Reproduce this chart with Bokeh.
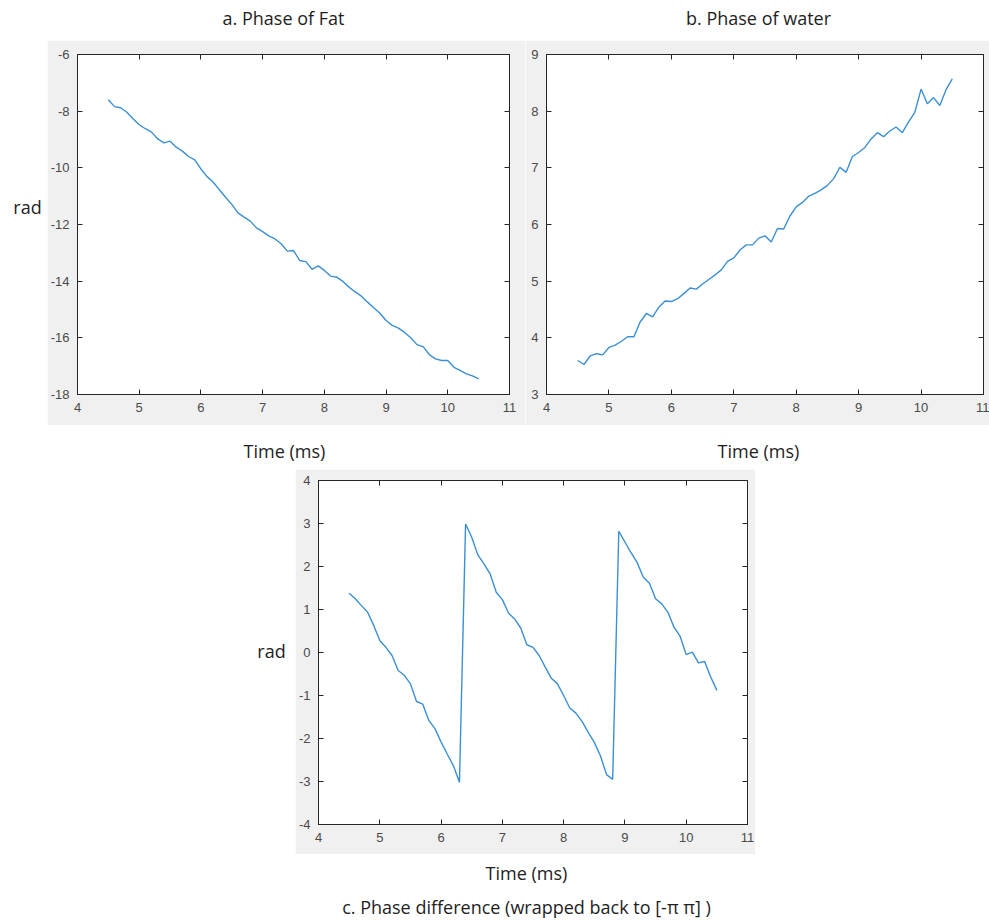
from bokeh.plotting import figure
from bokeh.models import Range1d, SingleIntervalTicker, LinearAxis, PrintfTickFormatter
from bokeh.layouts import column, row
from bokeh.embed import file_html
from bokeh.resources import INLINE
from bokeh.core.properties import value

# ---------------- data ----------------
time_ms = [4.5, 4.6, 4.7, 4.8, 4.9, 5.0, 5.1, 5.2, 5.3, 5.4,
           5.5, 5.6, 5.7, 5.8, 5.9, 6.0, 6.1, 6.2, 6.3, 6.4,
           6.5, 6.6, 6.7, 6.8, 6.9, 7.0, 7.1, 7.2, 7.3, 7.4,
           7.5, 7.6, 7.7, 7.8, 7.9, 8.0, 8.1, 8.2, 8.3, 8.4,
           8.5, 8.6, 8.7, 8.8, 8.9, 9.0, 9.1, 9.2, 9.3, 9.4,
           9.5, 9.6, 9.7, 9.8, 9.9, 10.0, 10.1, 10.2, 10.3, 10.4,
           10.5]

fat_phase = [-7.60, -7.84, -7.88, -8.04, -8.27, -8.48, -8.62, -8.74, -8.98, -9.12,
             -9.06, -9.27, -9.41, -9.60, -9.72, -10.04, -10.31, -10.51, -10.78, -11.04,
             -11.29, -11.59, -11.74, -11.88, -12.12, -12.25, -12.40, -12.51, -12.68, -12.94,
             -12.92, -13.27, -13.31, -13.58, -13.46, -13.62, -13.82, -13.86, -14.01, -14.21,
             -14.38, -14.53, -14.74, -14.94, -15.13, -15.39, -15.56, -15.66, -15.81, -16.00,
             -16.24, -16.31, -16.59, -16.74, -16.80, -16.80, -17.04, -17.15, -17.27, -17.34,
             -17.45]

water_phase = [3.60, 3.53, 3.68, 3.72, 3.70, 3.83, 3.87, 3.94, 4.02, 4.02,
               4.28, 4.43, 4.37, 4.54, 4.65, 4.64, 4.69, 4.78, 4.88, 4.86,
               4.95, 5.03, 5.11, 5.20, 5.35, 5.41, 5.55, 5.64, 5.64, 5.76,
               5.80, 5.69, 5.93, 5.92, 6.15, 6.31, 6.39, 6.50, 6.55, 6.61,
               6.69, 6.81, 7.01, 6.92, 7.20, 7.27, 7.36, 7.51, 7.62, 7.55,
               7.65, 7.72, 7.62, 7.81, 7.98, 8.39, 8.13, 8.24, 8.10, 8.38,
               8.57]

phase_diff = [1.38, 1.25, 1.09, 0.94, 0.63, 0.28, 0.12, -0.07, -0.42, -0.53,
              -0.73, -1.14, -1.20, -1.58, -1.77, -2.08, -2.36, -2.63, -3.02, 2.99,
              2.68, 2.27, 2.06, 1.83, 1.40, 1.23, 0.92, 0.78, 0.57, 0.18,
              0.12, -0.07, -0.34, -0.60, -0.73, -1.00, -1.29, -1.41, -1.60, -1.85,
              -2.09, -2.40, -2.84, -2.95, 2.82, 2.57, 2.32, 2.09, 1.75, 1.61,
              1.25, 1.13, 0.94, 0.59, 0.38, -0.05, 0.01, -0.24, -0.21, -0.57,
              -0.88]

x_limits = (4, 11)
fat_y_limits = (-18, -6)
water_y_limits = (3, 9)
diff_y_limits = (-4, 4)
fat_y_step = 2
water_y_step = 1
diff_y_step = 1

title_a = "a. Phase of Fat"
title_b = "b. Phase of water"
title_c = "c. Phase difference (wrapped back to [-\u03c0 \u03c0] )"
y_label = "rad"
x_label = "Time (ms)"

# ---------------- style ----------------
LINE = "#3b8fd3"
AX = "#262626"
TICK_TXT = "#4a4a4a"
FRAME = "#f0f0f0"
LBL_FONT = "Open Sans"
TICK_FONT = "Liberation Sans"


def axes_plot(w, h, bl, br, bt, bb, ylim, ystep, x, y):
    p = figure(width=w, height=h, x_range=Range1d(*x_limits), y_range=Range1d(*ylim),
               output_backend="svg", toolbar_location=None, title=None,
               x_axis_location=None, y_axis_location=None,
               min_border_left=bl, min_border_right=br,
               min_border_top=bt, min_border_bottom=bb,
               border_fill_color=FRAME, background_fill_color="white",
               outline_line_color=AX)
    p.grid.visible = False
    xt = SingleIntervalTicker(interval=1)
    yt = SingleIntervalTicker(interval=ystep)
    for loc, tick, show in [("below", xt, True), ("above", xt, False),
                            ("left", yt, True), ("right", yt, False)]:
        ax = LinearAxis(ticker=tick, formatter=PrintfTickFormatter(format="%d"))
        ax.axis_line_color = AX
        ax.major_tick_line_color = AX
        ax.major_tick_in = 5
        ax.major_tick_out = 0
        ax.minor_tick_line_color = None
        if show:
            ax.major_label_text_font = TICK_FONT
            ax.major_label_text_font_size = "13px"
            ax.major_label_text_color = TICK_TXT
            ax.major_label_standoff = 4
        else:
            ax.major_label_text_font_size = "0px"
            ax.major_label_standoff = 0
            ax.major_label_text_color = None
        p.add_layout(ax, loc)
    p.line(x, y, line_color=LINE, line_width=1.4)
    return p


def text_strip(w, h, items):
    p = figure(width=w, height=h, x_range=Range1d(0, w), y_range=Range1d(h, 0),
               output_backend="svg", toolbar_location=None, title=None,
               x_axis_location=None, y_axis_location=None, min_border=0,
               outline_line_color=None, border_fill_color="white",
               background_fill_color="white")
    p.grid.visible = False
    for tx, ty, txt in items:
        p.text(x=[tx], y=[ty], text=[txt], text_font=value(LBL_FONT),
               text_font_size="18px", text_align="center", text_baseline="middle",
               text_color="#1e1e1e")
    return p


strip_titles = text_strip(989, 40, [(283, 17, title_a), (758, 17, title_b)])
rad_a = text_strip(47, 385, [(27, 173, y_label)])
fig_a = axes_plot(478, 385, 30, 16, 14, 31, fat_y_limits, fat_y_step, time_ms, fat_phase)
fig_b = axes_plot(464, 385, 21, 6, 11, 27, water_y_limits, water_y_step, time_ms, water_phase)
strip_time = text_strip(989, 44, [(284, 25, x_label), (758, 25, x_label)])
rad_c = text_strip(295, 385, [(271, 191, y_label)])
fig_c = axes_plot(460, 385, 17, 8, 11, 30, diff_y_limits, diff_y_step, time_ms, phase_diff)
strip_bottom = text_strip(989, 64, [(526, 18, x_label), (526, 52, title_c)])

layout = column(strip_titles,
                row(rad_a, fig_a, fig_b),
                strip_time,
                row(rad_c, fig_c),
                strip_bottom)

open("out.html", "w").write(file_html(layout, INLINE, title="Phase plots"))
